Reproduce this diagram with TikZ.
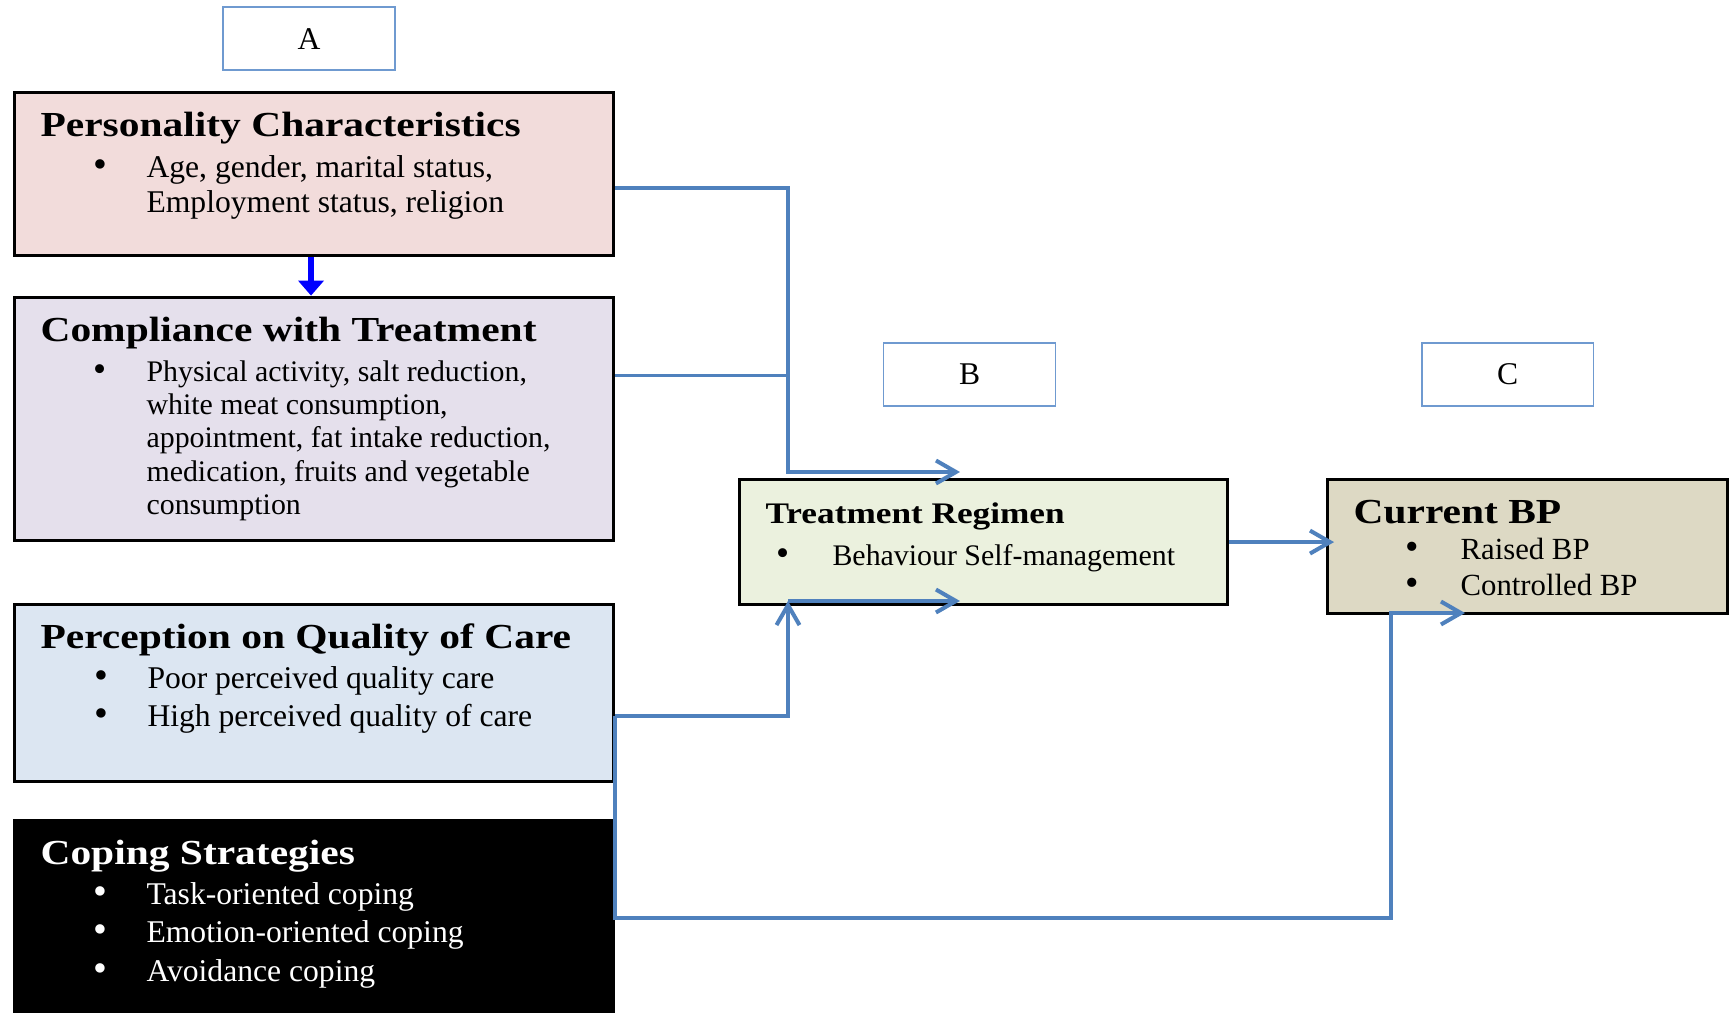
\documentclass[tikz,border=0pt]{standalone}
\usepackage{fontspec}
\setmainfont{Liberation Serif}
\newfontfamily\headfont[FakeStretch=1.18]{Liberation Serif}
\usepackage{tikz}
\usetikzlibrary{
	positioning,
	arrows.meta
}

\definecolor{persfill}{HTML}{F2DCDB}
\definecolor{compfill}{HTML}{E5E0EC}
\definecolor{percfill}{HTML}{DCE6F2}
\definecolor{treatfill}{HTML}{EBF1DE}
\definecolor{bpfill}{HTML}{DDD9C4}
\definecolor{linkblue}{HTML}{4F81BD}
\definecolor{tagblue}{HTML}{6F9AD0}

\newcommand{\heading}[2]{\rule{0pt}{0.58cm}{\headfont\bfseries\fontsize{#1}{#1}\selectfont #2}}
\newcommand{\dotitem}[3]{\hspace*{#1}\makebox[#2][l]{\scalebox{1.25}{\textbullet}}#3}
\newcommand{\boxtext}[3]{\parbox[c][#2][t]{#1}{#3}}

\tikzset{
	factor/.style={draw=black, line width=1.8pt, rectangle, inner xsep=0.52cm, inner ysep=0.3cm},
	tag/.style={draw=tagblue, line width=1pt, fill=white, minimum width=3.44cm, minimum height=1.26cm, font=\fontsize{18}{20}\selectfont},
	link/.style={draw=linkblue, line width=2.3pt},
	push/.style={draw=blue, line width=3pt, -{Triangle[length=0.3cm,width=0.5cm]}}
}

\begin{document}
\begin{tikzpicture}[x=0.02cm, y=-0.02cm, >={Straight Barb[length=0.4cm,width=0.46cm]}]
	\useasboundingbox (0,0) rectangle (1734,1012);

	% left column
	\node [factor, fill=persfill, anchor=north west, font=\fontsize{18}{20}\selectfont] (pers) at (13,91)
		{\boxtext{10.94cm}{2.66cm}{\heading{20}{Personality Characteristics}\\[3.3pt]
		\dotitem{1.05cm}{1.07cm}{\parbox[t]{8.6cm}{Age, gender, marital status,\\ Employment status, religion}}}};
	\node [factor, fill=compfill, below=0.77cm of pers, font=\fontsize{17}{19}\selectfont] (comp)
		{\boxtext{10.94cm}{4.26cm}{\heading{20}{Compliance with Treatment}\\[3.7pt]
		\dotitem{1.05cm}{1.07cm}{\parbox[t]{8.6cm}{Physical activity, salt reduction,\\ white meat consumption,\\ appointment, fat intake reduction,\\ medication, fruits and vegetable\\ consumption}}}};
	\node [factor, fill=percfill, below=1.22cm of comp, font=\fontsize{18}{22}\selectfont] (perc)
		{\boxtext{10.94cm}{2.94cm}{\heading{20}{Perception on Quality of Care}\\[0.7pt]
		\dotitem{1.07cm}{1.07cm}{Poor perceived quality care}\\
		\dotitem{1.07cm}{1.07cm}{High perceived quality of care}}};
	\node [factor, fill=black, text=white, below=0.72cm of perc, font=\fontsize{18}{22}\selectfont] (cope)
		{\boxtext{10.94cm}{3.4cm}{\heading{20}{Coping Strategies}\\[0.7pt]
		\dotitem{1.05cm}{1.07cm}{Task-oriented coping}\\
		\dotitem{1.05cm}{1.07cm}{Emotion-oriented coping}\\
		\dotitem{1.05cm}{1.07cm}{Avoidance coping}}};

	% middle and right
	\node [factor, fill=treatfill, anchor=north west, font=\fontsize{17}{20}\selectfont] (treat) at (738,478)
		{\boxtext{8.72cm}{1.9cm}{\heading{17}{Treatment Regimen}\\[3.8pt]
		\dotitem{0.21cm}{1.13cm}{Behaviour Self-management}}};
	\node [factor, fill=bpfill, right=1.94cm of treat.north east, anchor=north west, font=\fontsize{17.5}{20.5}\selectfont] (curr)
		{\boxtext{6.96cm}{2.08cm}{\heading{20}{Current BP}\\[0pt]
		\dotitem{1.03cm}{1.11cm}{Raised BP}\\
		\dotitem{1.03cm}{1.11cm}{Controlled BP}}};

	\node [tag, above=0.4cm of pers, xshift=-0.1cm]  (tagA) {A};
	\node [tag, above=1.42cm of treat, xshift=-0.28cm] (tagB) {B};
	\node [tag, above=1.42cm of curr, xshift=-0.4cm]  (tagC) {C};

	\coordinate (bend)    at (788,472);
	\coordinate (tipT)    at (960,472);
	\coordinate (footL)   at (788,601);
	\coordinate (tipB)    at (960,601);
	\coordinate (lowC)    at (1391,918);
	\coordinate (tipC)    at (1465,613);
	\coordinate (compout) at ([yshift=0.87cm]comp.east);

	\draw [push] ([xshift=-0.06cm]pers.south) -- ([xshift=-0.06cm]comp.north);

	\draw [link,->] ([yshift=-0.27cm]pers.east) -| (bend) -- (tipT);
	\draw [link, line width=1.7pt] (compout) -- (compout -| bend);
	\draw [link,->] ([yshift=-0.47cm]perc.east) -| (footL);
	\draw [link,->] (footL) -- (tipB);
	\draw [link,->] ([yshift=-0.47cm]perc.east) |- (lowC) |- (tipC);
	\draw [link,->,shorten >=-0.16cm] (treat.east) -- (treat.east -| curr.west);
\end{tikzpicture}
\end{document}
